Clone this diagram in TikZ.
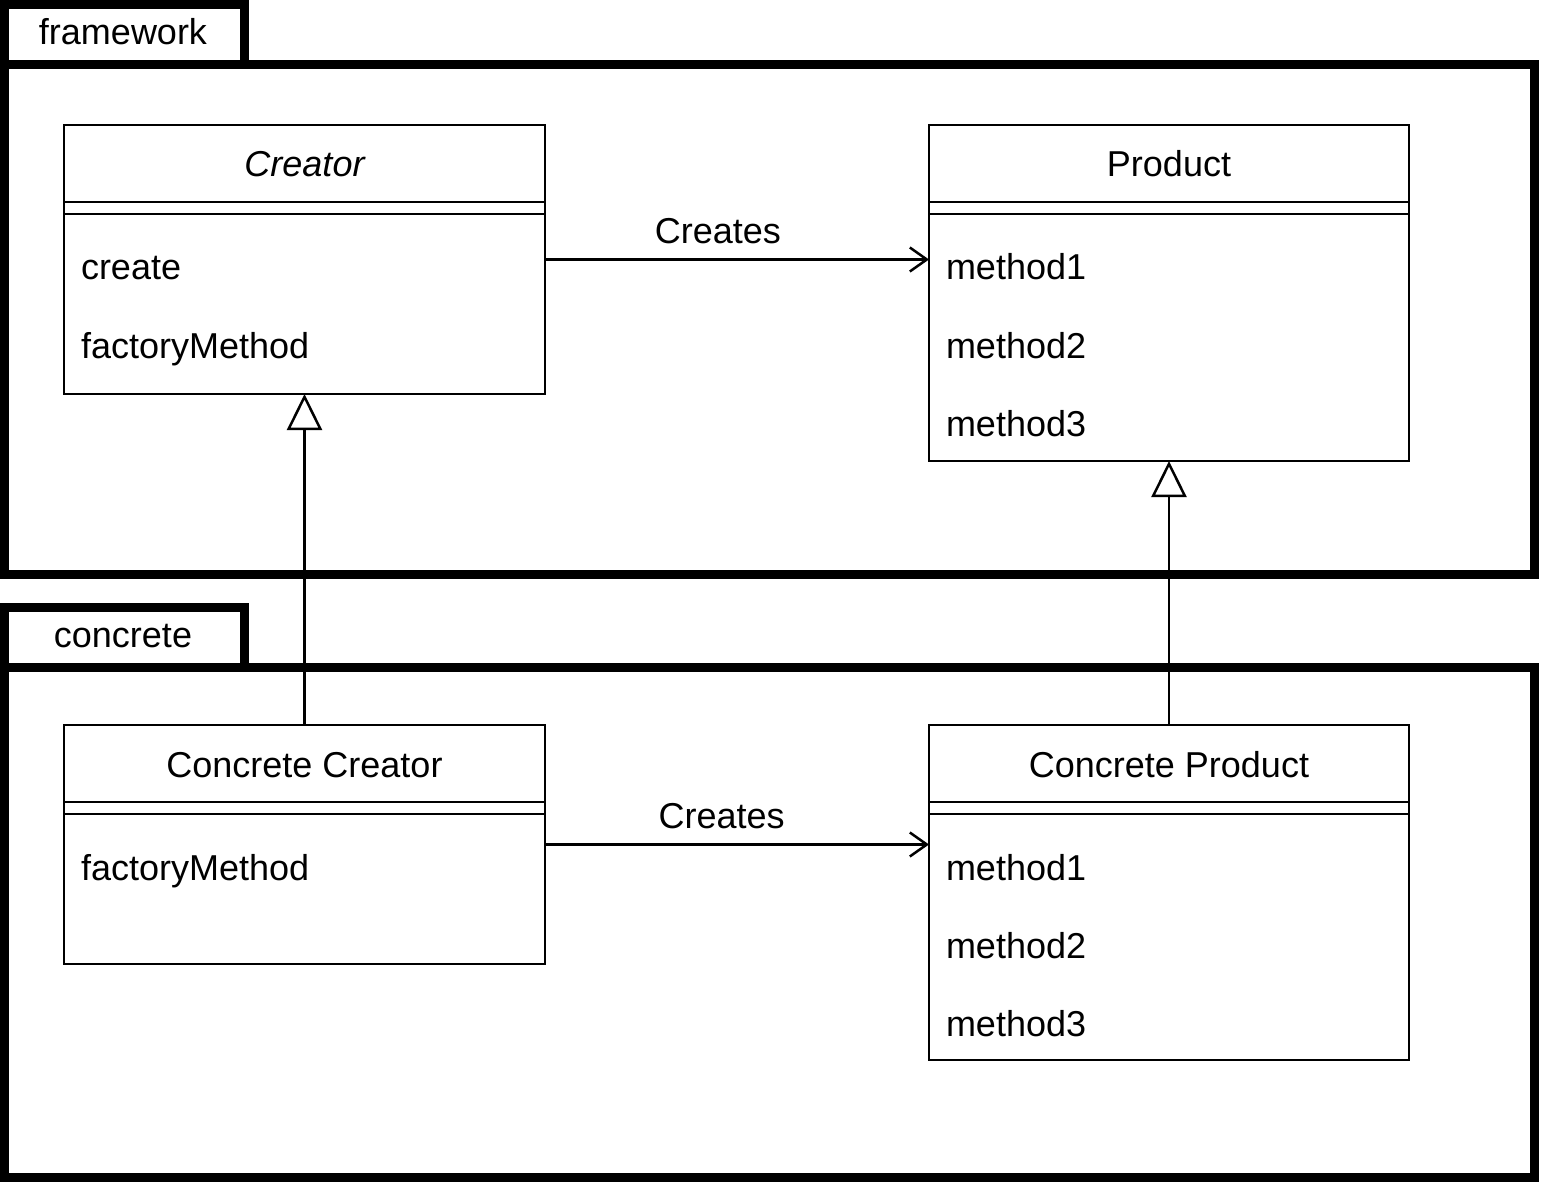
\documentclass[tikz,border=0pt]{standalone}
\usepackage{fontspec}
\setmainfont{Liberation Sans}
\usetikzlibrary{arrows.meta}
\begin{document}
\begin{tikzpicture}[x=0.5pt,y=-0.5pt,
  pkgframe/.style={draw, line width=4.5pt, anchor=north west, inner sep=0pt, outer sep=0pt},
  cls/.style={draw, line width=1.25pt, anchor=north west, inner sep=0pt, outer sep=0pt, fill=white},
  txt/.style={inner sep=0pt, outer sep=0pt, font=\fontsize{18pt}{21pt}\selectfont},
  thin/.style={line width=1.25pt},
  creates/.style={thin, -{Straight Barb[length=8.5pt, width=12pt]}},
  inherits/.style={thin, -{Triangle[length=18pt, width=17.5pt, fill=white]}}]
\useasboundingbox (0,0) rectangle (1542,1182);
% packages
\node[pkgframe, minimum width=119.75pt, minimum height=30pt] (fwtab) at (4.5,4.5) {};
\node[pkgframe, minimum width=765pt, minimum height=255pt] (fw) at (4.5,64.5) {};
\node[txt, anchor=base] (fwlabel) at (123,45) {framework};
\node[pkgframe, minimum width=119.75pt, minimum height=30pt] (cotab) at (4.5,607.5) {};
\node[pkgframe, minimum width=765pt, minimum height=255pt] (co) at (4.5,667.5) {};
\node[txt, anchor=base] (colabel) at (123,647) {concrete};
% classes
\node[cls, minimum width=240.5pt, minimum height=134.5pt] (creator) at (64,125) {};
\node[cls, minimum width=240pt, minimum height=168pt] (product) at (929,125) {};
\node[cls, minimum width=240.5pt, minimum height=119.5pt] (cc) at (64,725) {};
\node[cls, minimum width=240pt, minimum height=167.5pt] (cp) at (929,725) {};
\foreach \n in {creator,product,cc,cp}{
  \draw[thin] ([yshift=-38.5pt]\n.north west) -- ([yshift=-38.5pt]\n.north east);
  \draw[thin] ([yshift=-44.5pt]\n.north west) -- ([yshift=-44.5pt]\n.north east);
}
% texts
\node[txt, anchor=base] (t1) at (304.5,177) {\itshape Creator};
\node[txt, anchor=base west] (t2) at (81,280) {create};
\node[txt, anchor=base west] (t3) at (81,358) {factoryMethod};
\node[txt, anchor=base] (t4) at (1169,177) {Product};
\node[txt, anchor=base west] (t5) at (946,280) {method1};
\node[txt, anchor=base west] (t6) at (946,358) {method2};
\node[txt, anchor=base west] (t7) at (946,436) {method3};
\node[txt, anchor=base] (t8) at (304.5,777) {Concrete Creator};
\node[txt, anchor=base west] (t9) at (81,880) {factoryMethod};
\node[txt, anchor=base] (t10) at (1169,777) {Concrete Product};
\node[txt, anchor=base west] (t11) at (946,880) {method1};
\node[txt, anchor=base west] (t12) at (946,958) {method2};
\node[txt, anchor=base west] (t13) at (946,1036) {method3};
% connectors
\draw[creates] (creator.east) -- (creator.east -| product.west)
  node[txt, anchor=base, pos=0.45, yshift=8pt] (lab1) {Creates};
\draw[creates] (cc.east) -- (cc.east -| cp.west)
  node[txt, anchor=base, pos=0.46, yshift=8pt] (lab2) {Creates};
\draw[inherits] (cc.north) -- (creator.south);
\draw[inherits] (cp.north) -- (product.south);
\end{tikzpicture}
\end{document}
